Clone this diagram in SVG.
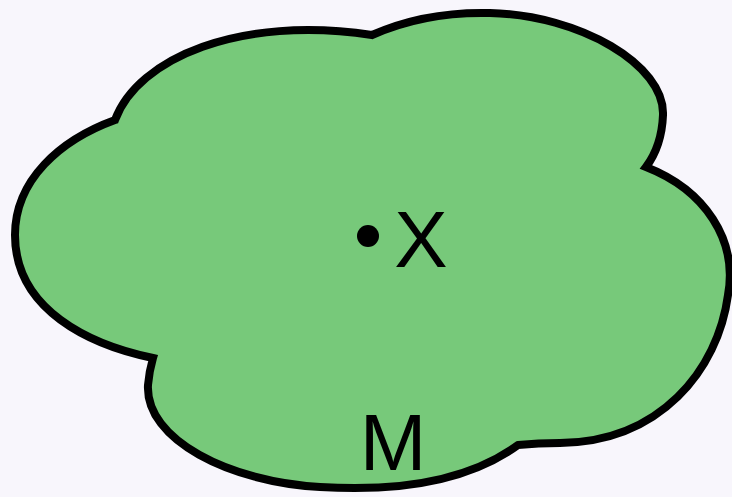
<svg xmlns="http://www.w3.org/2000/svg" width="732" height="497" viewBox="0 0 732 497">
<style>
.lbl{font-family:"Liberation Sans",Arial,sans-serif;font-size:80px;fill:#000}
</style>
<rect width="732" height="497" fill="#f8f6fc"/>
<g id="cloud">
<path d="M115,120 C138,58 240,15 372,35 C410,18 450,12 490,13 C580,15 665,65 663,115 C662,140 655,155 646,167 C705,190 738,240 728,295 C718,370 660,442 560,443 C540,443 528,444 518,445 C470,480 400,492 320,487 C230,482 145,440 148,385 C149,373 151,365 153,358 C90,345 15,310 15,235 C15,180 60,140 115,120 Z" fill="#77c97a" stroke="#000" stroke-width="8" stroke-linejoin="miter"/>
<text class="lbl" x="393" y="470" text-anchor="middle">M</text>
</g>
<g id="point">
<circle cx="368" cy="236" r="11" fill="#000"/>
<text class="lbl" x="421" y="267" text-anchor="middle">X</text>
</g>
</svg>
